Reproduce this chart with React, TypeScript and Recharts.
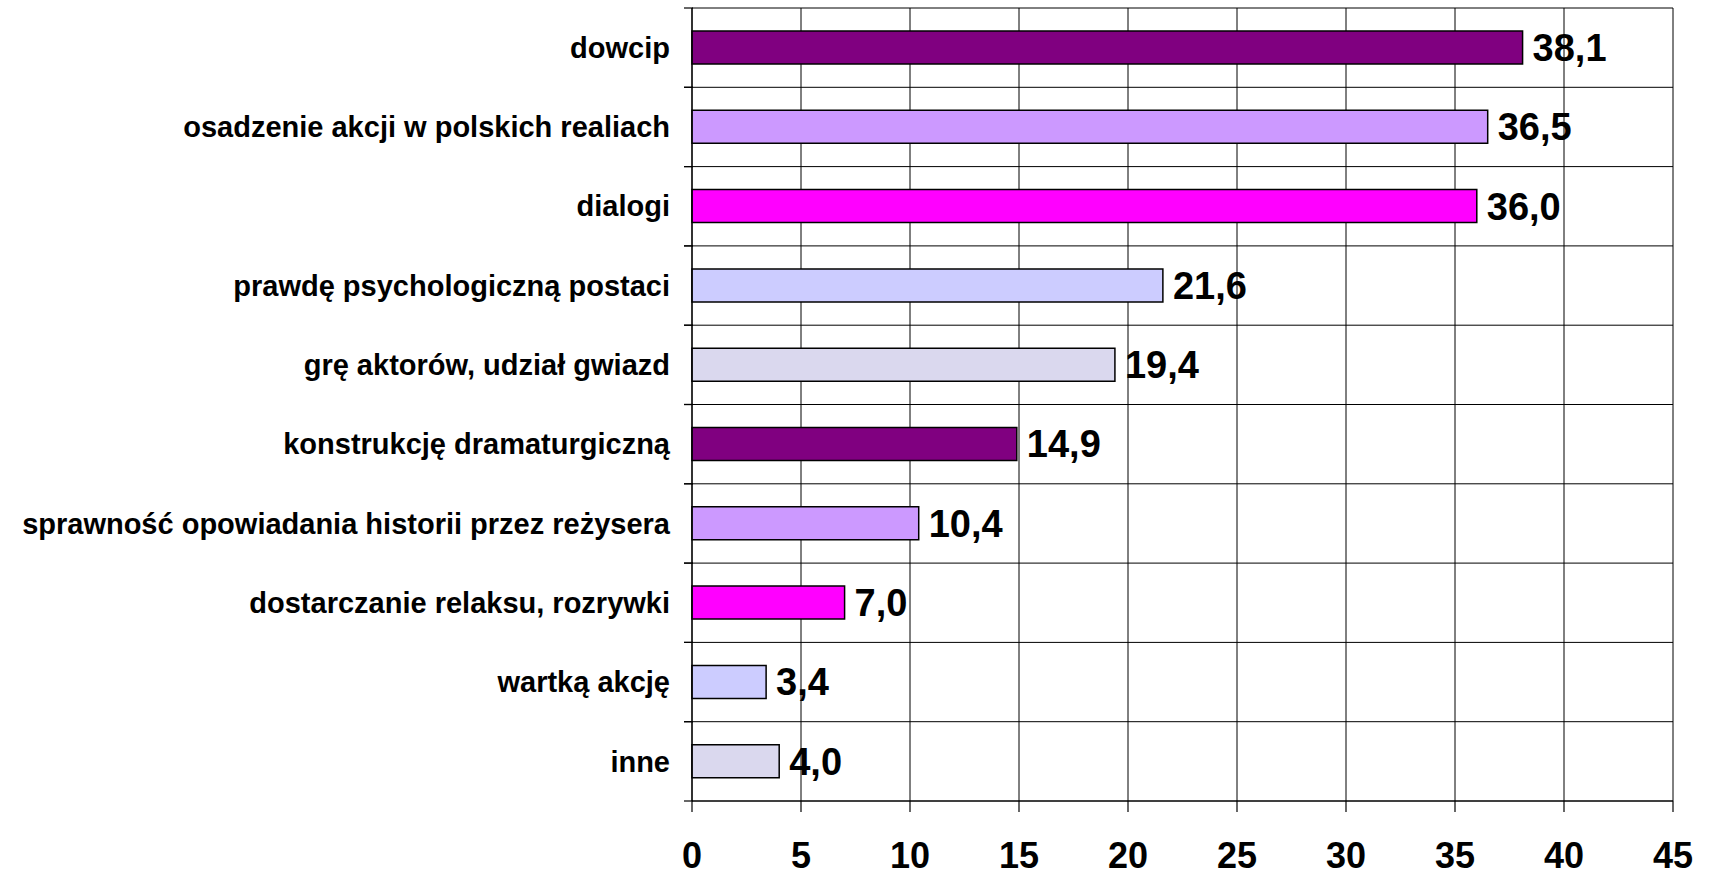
import React from 'react';
import { BarChart, Bar, XAxis, YAxis, CartesianGrid, Cell, LabelList } from 'recharts';

const categories = [
  'dowcip',
  'osadzenie akcji w polskich realiach',
  'dialogi',
  'prawdę psychologiczną postaci',
  'grę aktorów, udział gwiazd',
  'konstrukcję dramaturgiczną',
  'sprawność opowiadania historii przez reżysera',
  'dostarczanie relaksu, rozrywki',
  'wartką akcję',
  'inne',
];
const values = [38.1, 36.5, 36.0, 21.6, 19.4, 14.9, 10.4, 7.0, 3.4, 4.0];
const xTicks = [0, 5, 10, 15, 20, 25, 30, 35, 40, 45];
const barColors = ['#800080', '#CC99FF', '#FF00FF', '#CCCCFF', '#DAD8EE'];

const data = categories.map((name, i) => ({ name, value: values[i] }));

const W = 1712;
const H = 875;
const margin = { top: 8, right: 39, bottom: 0, left: 0 };
const font = '"Liberation Sans", Arial, sans-serif';

function CategoryTick(props: any) {
  const { x, y, payload, band } = props;
  return (
    <g>
      <line x1={x} x2={x + 9} y1={y - band / 2} y2={y - band / 2} stroke="#000" strokeWidth={1.2} />
      <line x1={x} x2={x + 9} y1={y + band / 2} y2={y + band / 2} stroke="#000" strokeWidth={1.2} />
      <text x={x - 14} y={y} dy="0.35em" textAnchor="end" fontFamily={font} fontWeight="bold" fontSize={29} fill="#000">
        {payload.value}
      </text>
    </g>
  );
}

export default function App() {
  const plotH = 801 - margin.top;
  const band = plotH / categories.length;
  return (
    <div style={{ position: 'absolute', left: 0, top: 0, background: '#fff' }}>
      <BarChart
        width={W}
        height={H}
        data={data}
        layout="vertical"
        margin={margin}
        barCategoryGap="29%"
      >
        <CartesianGrid
          stroke="#000"
          strokeWidth={1}
          horizontalCoordinatesGenerator={({ offset }: any) =>
            categories.map((_, i) => offset.top + (i * offset.height) / categories.length).concat([offset.top + offset.height])
          }
        />
        <XAxis
          type="number"
          domain={[0, 45]}
          ticks={xTicks}
          interval={0}
          height={74}
          axisLine={{ stroke: '#000', strokeWidth: 1.2 }}
          tickLine={{ stroke: '#000', strokeWidth: 1.2 }}
          tickSize={11}
          tickMargin={30}
          tick={{ fontFamily: font, fontWeight: 'bold', fontSize: 36, fill: '#000' }}
        />
        <YAxis
          type="category"
          dataKey="name"
          width={692}
          interval={0}
          axisLine={{ stroke: '#000', strokeWidth: 1.2 }}
          tickLine={false}
          tick={(p: any) => <CategoryTick {...p} x={684} band={band} />}
        />
        <Bar dataKey="value" stroke="#000" strokeWidth={1.5} isAnimationActive={false}>
          {data.map((d, i) => (
            <Cell key={d.name} fill={barColors[i % barColors.length]} />
          ))}
          <LabelList
            dataKey="value"
            position="right"
            offset={10}
            formatter={(v: any) => Number(v).toFixed(1).replace('.', ',')}
            style={{ fontFamily: font, fontWeight: 'bold', fontSize: 38, fill: '#000' }}
          />
        </Bar>
      </BarChart>
    </div>
  );
}
